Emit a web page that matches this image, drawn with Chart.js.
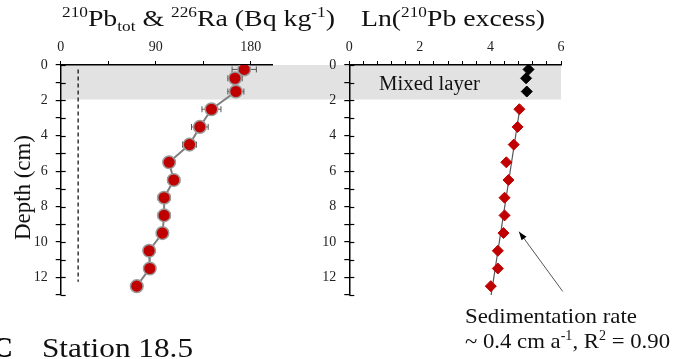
<!DOCTYPE html>
<html>
<head>
<meta charset="utf-8">
<script src="https://cdn.jsdelivr.net/npm/chart.js@4/dist/chart.umd.min.js"></script>
<style>
  html, body { margin: 0; padding: 0; background: #fff; }
  #wrap { position: relative; width: 685px; height: 359px; overflow: hidden; }
  #wrap canvas { position: absolute; left: 0; top: 0; }
</style>
</head>
<body>
<div id="wrap">
  <canvas id="pb-chart" width="685" height="359"></canvas>
  <canvas id="ln-chart" width="685" height="359"></canvas>
</div>
<script>
'use strict';

// ── Data ────────────────────────────────────────────────
const depths  = [0.25, 0.75, 1.5, 2.5, 3.5, 4.5, 5.5, 6.5, 7.5, 8.5, 9.5, 10.5, 11.5, 12.5]; // cm
const pbTot   = [173.7, 165, 165.8, 142.7, 131.7, 121.9, 102.6, 107, 97.9, 97.9, 96.3, 83.7, 84.3, 72]; // Bq/kg
const pbErr   = [11.5, 6.8, 7.6, 9, 7.9, 6.6, 5.2, 5.7, 5.7, 5.7, 5.7, 4, 4, 4];

const raDepth = [0.25, 12.25];
const ra226   = [16.5, 16.5];

const mixedDepth  = [0.25, 0.75, 1.5];
const lnMixed     = [5.08, 5.01, 5.03];
const excessDepth = [2.5, 3.5, 4.5, 5.5, 6.5, 7.5, 8.5, 9.5, 10.5, 11.5, 12.5];
const lnExcess    = [4.82, 4.77, 4.66, 4.45, 4.51, 4.40, 4.40, 4.37, 4.21, 4.21, 4.01];
const fitDepth    = [2.5, 13];
const fitLn       = [4.83, 4.02];

const pbTickLabels    = [0, 90, 180];
const lnTickLabels    = [0, 2, 4, 6];
const depthTickLabels = [0, 2, 4, 6, 8, 10, 12];

const SERIF = '"Liberation Serif", "Times New Roman", serif';
const RED   = '#c00000';

const pts = (xs, ys) => xs.map((x, i) => ({ x, y: ys[i] }));

// ── Helpers ─────────────────────────────────────────────
// parts: [{t, sup, sub}] ; squeezed/stretched to `width` if given
function drawRich(ctx, parts, x, y, size, width, opts = {}) {
  const fontOf = p => `${opts.bold ? 'bold ' : ''}${(p.sup || p.sub) ? size * 0.62 : size}px ${SERIF}`;
  let total = 0;
  parts.forEach(p => { ctx.font = fontOf(p); total += ctx.measureText(p.t).width; });
  const k = width ? width / total : 1;
  ctx.save();
  ctx.translate(x, y);
  if (opts.rotate) ctx.rotate(opts.rotate);
  ctx.scale(k, 1);
  ctx.fillStyle = opts.color || '#111';
  ctx.textBaseline = 'alphabetic';
  ctx.textAlign = 'left';
  let cx = 0;
  parts.forEach(p => {
    ctx.font = fontOf(p);
    const dy = p.sup ? -size * 0.36 : p.sub ? size * 0.2 : 0;
    ctx.fillText(p.t, cx, dy);
    cx += ctx.measureText(p.t).width;
  });
  ctx.restore();
}

function depthScale() {
  return {
    type: 'linear', reverse: true, min: 0, max: 13,
    afterFit: s => { s.width = 40; },
    border: { display: true, color: '#000', width: 1.5 },
    grid: { drawOnChartArea: false, drawTicks: true, tickLength: 5, color: '#000', lineWidth: 1.2 },
    ticks: {
      stepSize: 1, autoSkip: false, padding: 8, color: '#222',
      font: { family: SERIF, size: 14 },
      callback: v => depthTickLabels.includes(v) ? String(v) : '',
    },
  };
}

function valueScale(min, max, step, labels) {
  return {
    type: 'linear', position: 'top', min, max,
    afterFit: s => { s.height = 30; },
    afterBuildTicks: s => {
      const t = [];
      for (let i = 0; min + i * step <= max + 1e-6; i++) t.push({ value: Math.round((min + i * step) * 100) / 100 });
      s.ticks = t;
    },
    border: { display: true, color: '#000', width: 1.5 },
    grid: { drawOnChartArea: false, drawTicks: true, tickLength: 4, color: '#000', lineWidth: 1 },
    ticks: {
      autoSkip: false, maxRotation: 0, padding: 5, color: '#222',
      font: { family: SERIF, size: 14 },
      callback: v => labels.includes(v) ? String(v) : '',
    },
  };
}

// inward half of the crossing depth ticks
const crossTicks = {
  id: 'crossTicks',
  afterDraw(chart) {
    const { ctx, scales: { y } } = chart;
    ctx.save();
    ctx.strokeStyle = '#000';
    ctx.lineWidth = 1.2;
    y.ticks.forEach(t => {
      const py = Math.round(y.getPixelForValue(t.value)) + 0.5;
      ctx.beginPath();
      ctx.moveTo(y.right, py);
      ctx.lineTo(y.right + 5, py);
      ctx.stroke();
    });
    ctx.restore();
  },
};

// ── Right panel: Ln(210Pb excess) ───────────────────────
const lnChart = new Chart(document.getElementById('ln-chart'), {
  type: 'scatter',
  data: {
    datasets: [
      {
        label: 'Mixed layer',
        data: pts(lnMixed, mixedDepth),
        pointStyle: 'rectRot', pointRadius: 5.5,
        pointBackgroundColor: '#000', pointBorderColor: '#000',
      },
      {
        label: 'Ln 210Pb excess',
        data: pts(lnExcess, excessDepth),
        pointStyle: 'rectRot', pointRadius: 5.5,
        pointBackgroundColor: RED, pointBorderColor: RED,
      },
      {
        label: 'Fit',
        data: pts(fitLn, fitDepth),
        showLine: true, borderColor: '#555', borderWidth: 1.2, pointRadius: 0,
      },
    ],
  },
  options: {
    responsive: false, animation: false, events: [],
    layout: { padding: { left: 309.3, right: 124, top: 35, bottom: 64 } },
    plugins: { legend: { display: false }, tooltip: { enabled: false } },
    scales: { x: valueScale(0, 6, 0.4, lnTickLabels), y: depthScale() },
  },
  plugins: [crossTicks, {
    id: 'annotate',
    afterDraw(chart) {
      const { ctx, scales: { x, y } } = chart;
      // arrow to fitted line
      const x0 = x.getPixelForValue(6.05), y0 = y.getPixelForValue(12.8);
      const x1 = x.getPixelForValue(4.81), y1 = y.getPixelForValue(9.42);
      const a = Math.atan2(y1 - y0, x1 - x0);
      ctx.save();
      ctx.strokeStyle = '#555';
      ctx.lineWidth = 1;
      ctx.beginPath(); ctx.moveTo(x0, y0); ctx.lineTo(x1, y1); ctx.stroke();
      ctx.fillStyle = '#000';
      ctx.beginPath();
      ctx.moveTo(x1, y1);
      ctx.lineTo(x1 - 9 * Math.cos(a - 0.35), y1 - 9 * Math.sin(a - 0.35));
      ctx.lineTo(x1 - 9 * Math.cos(a + 0.35), y1 - 9 * Math.sin(a + 0.35));
      ctx.closePath(); ctx.fill();
      ctx.restore();

      drawRich(ctx, [{ t: 'Mixed layer' }], 379, 90, 20, 101);
      drawRich(ctx, [{ t: 'Sedimentation rate' }], 465, 323, 22, 172);
      drawRich(ctx, [{ t: '~ 0.4 cm a' }, { t: '-1', sup: true }, { t: ', R' }, { t: '2', sup: true }, { t: ' = 0.90' }], 465, 348, 22, 205);

      // titles
      drawRich(ctx, [{ t: '210', sup: true }, { t: 'Pb' }, { t: 'tot', sub: true }, { t: ' & ' }, { t: '226', sup: true },
                     { t: 'Ra (Bq kg' }, { t: '-1', sup: true }, { t: ')' }], 62, 26, 24, 273);
      drawRich(ctx, [{ t: 'Ln(' }, { t: '210', sup: true }, { t: 'Pb excess)' }], 361, 26, 24, 184);

      drawRich(ctx, [{ t: 'Depth (cm)' }], 30, 240, 23, 105, { rotate: -Math.PI / 2 });
      drawRich(ctx, [{ t: 'C' }], -8, 357, 29, 21, { bold: true, color: '#000' });
      drawRich(ctx, [{ t: 'Station 18.5' }], 42, 357, 28, 151);
    },
  }],
});

// ── Left panel: 210Pb_tot & 226Ra ───────────────────────
const pbChart = new Chart(document.getElementById('pb-chart'), {
  type: 'scatter',
  data: {
    datasets: [
      {
        label: '210Pb tot',
        data: pts(pbTot, depths),
        showLine: true, borderColor: '#808080', borderWidth: 2,
        pointRadius: 6.3, pointBackgroundColor: RED, pointBorderColor: '#9a9a9a', pointBorderWidth: 1.5,
      },
      {
        label: '226Ra',
        data: pts(ra226, raDepth),
        showLine: true, borderColor: '#000', borderWidth: 1.2, borderDash: [4, 3], pointRadius: 0,
      },
    ],
  },
  options: {
    responsive: false, animation: false, events: [],
    layout: { padding: { left: 20.7, right: 413, top: 35, bottom: 64 } },
    plugins: { legend: { display: false }, tooltip: { enabled: false } },
    scales: { x: valueScale(0, 200, 45, pbTickLabels), y: depthScale() },
  },
  plugins: [crossTicks, {
    id: 'bandAndErrors',
    beforeDraw(chart) {
      // mixed layer band across both panels
      const { ctx, scales: { x, y } } = chart;
      const right = lnChart.scales.x.getPixelForValue(6);
      const top = y.getPixelForValue(0), bot = y.getPixelForValue(1.95);
      ctx.save();
      ctx.fillStyle = '#e2e2e2';
      ctx.fillRect(x.left + 1, top, right - x.left - 1, bot - top);
      ctx.restore();
    },
    beforeDatasetsDraw(chart) {
      const { ctx, scales: { x, y } } = chart;
      ctx.save();
      ctx.strokeStyle = '#555';
      ctx.lineWidth = 1;
      depths.forEach((d, i) => {
        const py = y.getPixelForValue(d);
        const xl = x.getPixelForValue(pbTot[i] - pbErr[i]);
        const xr = x.getPixelForValue(pbTot[i] + pbErr[i]);
        ctx.beginPath();
        ctx.moveTo(xl, py); ctx.lineTo(xr, py);
        ctx.moveTo(xl, py - 3); ctx.lineTo(xl, py + 3);
        ctx.moveTo(xr, py - 3); ctx.lineTo(xr, py + 3);
        ctx.stroke();
      });
      ctx.restore();
    },
  }],
});
</script>
</body>
</html>
